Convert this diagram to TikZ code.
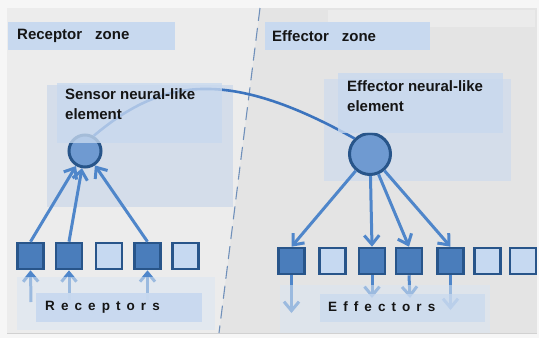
\documentclass[tikz,border=0pt]{standalone}
\usepackage{fontspec}
\setmainfont{Liberation Sans}
\newfontfamily\spacedfont[LetterSpace=45]{Liberation Sans}
\usetikzlibrary{arrows.meta}

\definecolor{outerbg}{HTML}{F6F6F6}
\definecolor{panel}{HTML}{E4E4E4}
\definecolor{panelleft}{HTML}{ECECEC}
\definecolor{topstrip}{HTML}{EBEBEB}
\definecolor{labelblue}{HTML}{C8D9EF}
\definecolor{regionblue}{HTML}{D4DDEA}
\definecolor{paleblue}{HTML}{DAE5F2}
\definecolor{darkfill}{HTML}{4A7DBB}
\definecolor{lightfill}{HTML}{C6D9F1}
\definecolor{edgeblue}{HTML}{28558A}
\definecolor{arrowblue}{HTML}{4F86CA}
\definecolor{linkblue}{HTML}{3C74BE}
\definecolor{cellfill}{HTML}{6F9AD1}
\definecolor{dashblue}{HTML}{7090BA}
\definecolor{inktext}{HTML}{151515}

\begin{document}
\begin{tikzpicture}[x=1pt,y=-1pt,
  zonebox/.style={fill=labelblue,draw=none},
  regionbox/.style={fill=regionblue,draw=none},
  labeltext/.style={inner sep=0pt,text=inktext,font=\fontsize{15}{20.5}\selectfont\bfseries},
  spacedtext/.style={inner sep=0pt,text=inktext,font=\spacedfont\fontsize{13.5}{16}\selectfont\bfseries},
  cell/.style={circle,draw=edgeblue,line width=3pt,fill=cellfill,inner sep=0pt},
  onsq/.style={rectangle,draw=edgeblue,line width=2.6pt,fill=darkfill,minimum size=26pt,inner sep=0pt},
  offsq/.style={rectangle,draw=edgeblue,line width=2.6pt,fill=lightfill,minimum size=26pt,inner sep=0pt},
  arr/.style={draw=arrowblue,line width=3pt,-{Straight Barb[length=9pt,width=15pt]}},
]
\useasboundingbox (0,0) rectangle (539,338);

% page and panel
\fill[outerbg] (0,0) rectangle (539,338);
\fill[panel] (7,8) rectangle (537,333);
\fill[panelleft] (7,8) -- (260,8) -- (219,333) -- (7,333) -- cycle;
\fill[topstrip] (328,10) rectangle (535,27);
\draw[black!18,line width=0.8pt] (7,333) -- (537,333);

% zone divider
\draw[dashblue,line width=1.1pt,dash pattern=on 13pt off 7pt] (260,8) -- (219,333);

% zone titles
\fill[zonebox] (8,22) rectangle (175,50);
\fill[zonebox] (265,22) rectangle (430,50);
\node[labeltext,anchor=west] (rzone) at (17,36) {Receptor\hspace{13pt}zone};
\node[labeltext,anchor=west] (ezone) at (272,36) {Effector\hspace{13pt}zone};

% element regions
\fill[regionbox] (47,85) rectangle (233,207);
\fill[regionbox] (324,79) rectangle (511,181);

% neural-like elements
\node[cell,minimum size=32pt] (sc) at (85,151) {};
\node[cell,minimum size=41pt] (ec) at (370,154) {};

% link between the elements
\draw[linkblue,line width=2.6pt] (sc.60) .. controls (160,80) and (225,66) .. (ec.135);

% element captions
\fill[labelblue,opacity=0.78] (57,83) rectangle (222,143);
\fill[labelblue,opacity=0.78] (338,73) rectangle (503,133);
\node[labeltext,anchor=north west,align=left] (stext) at (65,88) {Sensor neural-like\\element};
\node[labeltext,anchor=north west,align=left] (etext) at (347,80) {Effector neural-like\\element};

% receptor row
\node[onsq]  (r1) at (30.5,256) {};
\node[onsq]  (r2) at (69,256) {};
\node[offsq] (r3) at (109,256) {};
\node[onsq]  (r4) at (147.5,256) {};
\node[offsq] (r5) at (185.5,256) {};

% effector row
\node[onsq]  (f1) at (291.5,261) {};
\node[offsq] (f2) at (332.5,261) {};
\node[onsq]  (f3) at (372,261) {};
\node[onsq]  (f4) at (409,261) {};
\node[onsq]  (f5) at (450.5,261) {};
\node[offsq] (f6) at (487.5,261) {};
\node[offsq] (f7) at (523,261) {};

% receptors feed the sensor element
\draw[arr] (r1.north) -- (sc);
\draw[arr] (r2.north) -- (sc);
\draw[arr] (r4.north) -- (sc);

% effector element drives the effectors
\draw[arr] (ec) -- (f1.north);
\draw[arr] (ec) -- (f3.north);
\draw[arr] (ec) -- (f4.north);
\draw[arr] (ec) -- (f5.north);

% stimuli entering the receptors
\coordinate (rb1) at (31,302);
\coordinate (rb2) at (69,300);
\coordinate (rb4) at (147.5,300);
\draw[arr] (rb1) -- (r1.south);
\draw[arr] (rb2) -- (r2.south);
\draw[arr] (rb4) -- (r4.south);

% outputs leaving the effectors
\coordinate (fb1) at (291.5,313);
\coordinate (fb3) at (372,298);
\coordinate (fb4) at (410,298);
\coordinate (fb5) at (450.5,310);
\draw[arr] (f1.south) -- (fb1);
\draw[arr] (f3.south) -- (fb3);
\draw[arr] (f4.south) -- (fb4);
\draw[arr] (f5.south) -- (fb5);

% bottom captions
\fill[paleblue,opacity=0.55] (17,277) rectangle (215,330);
\fill[labelblue,opacity=0.95] (36,293) rectangle (202,322);
\fill[paleblue,opacity=0.55] (280,285) rectangle (490,333);
\fill[labelblue,opacity=0.7] (320,294) rectangle (485,322);
\node[spacedtext,anchor=west] (rtext) at (45,307) {Receptors};
\node[spacedtext,anchor=west] (ftext) at (328,307) {Effectors};
\end{tikzpicture}
\end{document}
